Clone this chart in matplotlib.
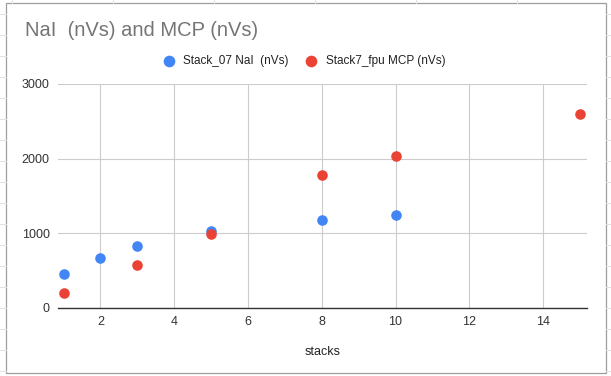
import matplotlib
matplotlib.use("Agg")
import matplotlib.pyplot as plt
from matplotlib.lines import Line2D
from matplotlib.patches import Rectangle
from matplotlib import rcParams
rcParams.update({"font.family": ["Liberation Sans", "DejaVu Sans"]})

# data
nai_x = [1, 2, 3, 5, 8, 10]
nai_y = [455, 668, 830, 1025, 1174, 1249]
mcp_x = [1, 3, 5, 8, 10, 15]
mcp_y = [200, 576, 995, 1784, 2035, 2597]
xticks = [2, 4, 6, 8, 10, 12, 14]
yticks = [0, 1000, 2000, 3000]

W, H = 611, 376
fig = plt.figure(figsize=(W / 100, H / 100), dpi=100)
fig.patch.set_facecolor("white")

# spreadsheet cell lines behind the chart
for yy in range(14, H, 21):
    fig.add_artist(Line2D([0, 6 / W], [1 - yy / H] * 2, color="#e2e2e2", lw=0.7))
    fig.add_artist(Line2D([606 / W, 1], [1 - yy / H] * 2, color="#e2e2e2", lw=0.7))
for xx in [12, 113, 214, 315, 416, 517]:
    fig.add_artist(Line2D([xx / W] * 2, [1 - 3 / H, 1], color="#e2e2e2", lw=0.7))
fig.add_artist(Rectangle((6 / W, 3 / H), 600 / W, 370 / H, fill=True,
                         facecolor="white", edgecolor="#9e9e9e", lw=0.9, zorder=0))

ax = fig.add_axes([58 / W, 68 / H, 529 / W, 224 / H])
ax.set_facecolor("none")
ax.scatter(nai_x, nai_y, s=58, color="#4285F4", label="Stack_07 NaI  (nVs)", zorder=3, linewidths=0)
ax.scatter(mcp_x, mcp_y, s=58, color="#EA4335", label="Stack7_fpu MCP (nVs)", zorder=3, linewidths=0)

ax.set_xlim(0.85, 15.19)
ax.set_ylim(0, 3000)
ax.set_xticks(xticks)
ax.set_yticks(yticks)
ax.grid(True, color="#cccccc", lw=0.8)
ax.set_axisbelow(True)
for s in ["top", "right", "left"]:
    ax.spines[s].set_visible(False)
ax.spines["bottom"].set_color("#333333")
ax.spines["bottom"].set_linewidth(1.0)
ax.tick_params(length=0, labelsize=9, colors="#333333", pad=6)
ax.set_xlabel("stacks", fontsize=9, color="#222222", labelpad=13)

fig.text(25 / W, 1 - 31 / H, "NaI  (nVs) and MCP (nVs)", fontsize=14.5, color="#757575", va="center")
leg = ax.legend(loc="lower center", bbox_to_anchor=(0.46, 1.03), ncol=2, frameon=False,
                fontsize=8.5, handletextpad=0.2, columnspacing=0.9, markerscale=1.1)
for t in leg.get_texts():
    t.set_color("#222222")

fig.savefig("out.png", dpi=100)
